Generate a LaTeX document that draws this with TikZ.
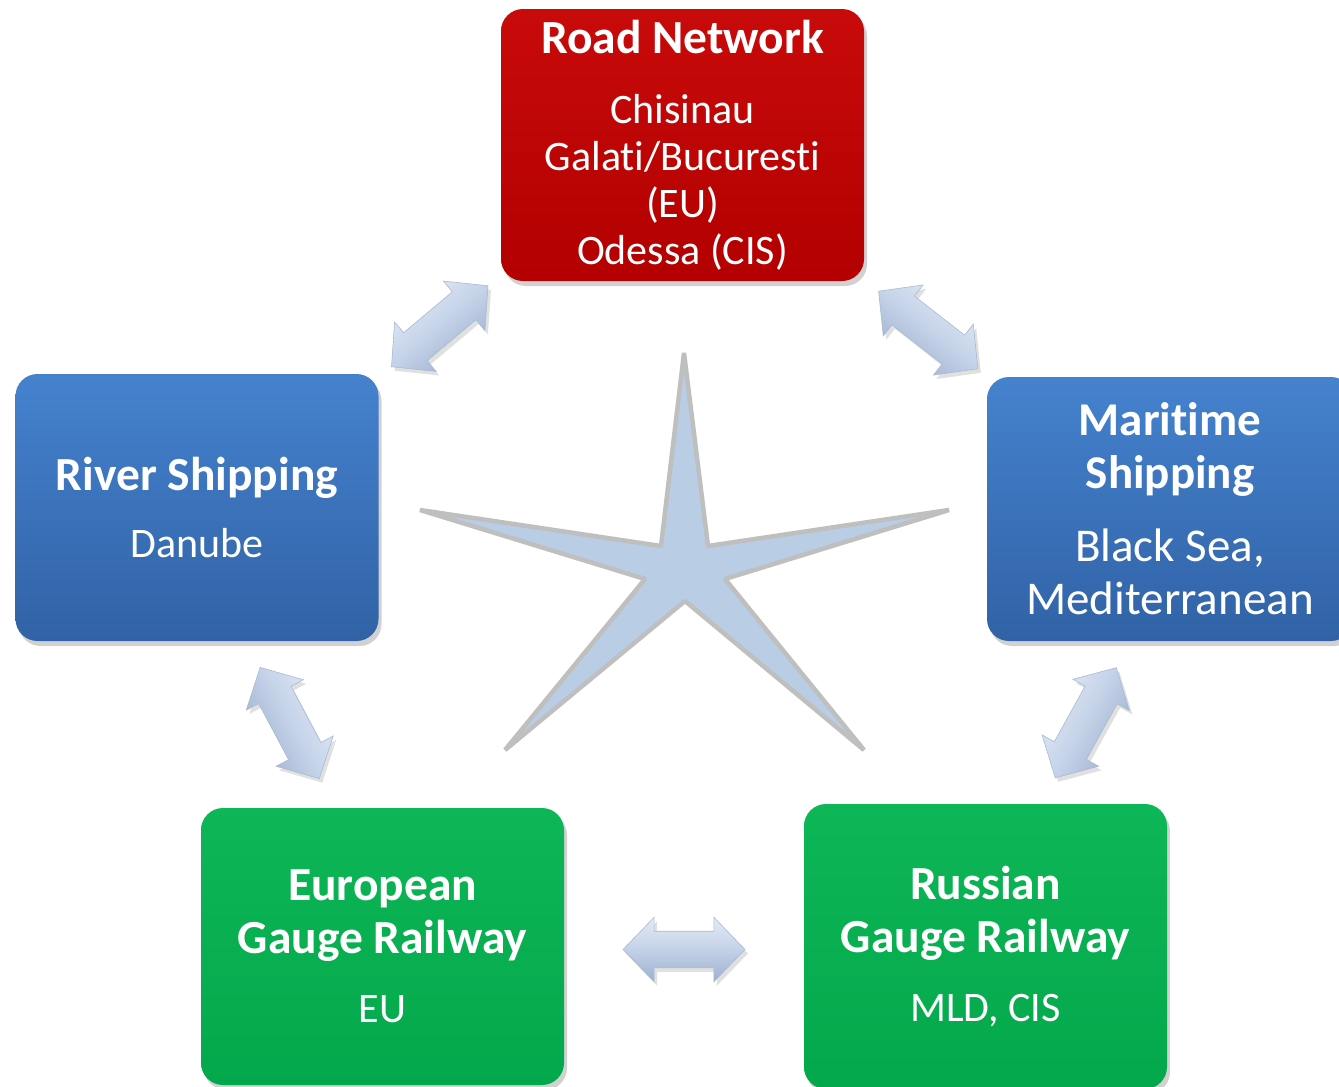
\documentclass[tikz,border=0pt]{standalone}
\usepackage{fontspec}
\setmainfont{Carlito}[Ligatures=NoCommon, RawFeature={-liga;-clig;-dlig;-calt}]
\usetikzlibrary{shapes.arrows,shadows,calc}
\definecolor{redtop}{HTML}{C80A0A}
\definecolor{redbot}{HTML}{B30000}
\definecolor{bluetop}{HTML}{4582CE}
\definecolor{bluebot}{HTML}{3162A6}
\definecolor{greentop}{HTML}{0DB656}
\definecolor{greenbot}{HTML}{04A84C}
\definecolor{arrlight}{HTML}{E2EAF5}
\definecolor{arrmid}{HTML}{C4D2E8}
\definecolor{arrdark}{HTML}{9DB0CE}
\definecolor{arredge}{HTML}{A9B9D3}
\definecolor{starfill}{HTML}{B9CDE5}
\definecolor{starline}{HTML}{BFBFBF}
\newcommand\ttlfont{\fontsize{47.5}{53}\selectfont\bfseries}
\tikzset{
  box/.style={rectangle, rounded corners=22pt, minimum width=363pt,
    text=white, align=center, inner sep=0pt,
    drop shadow={shadow xshift=3pt, shadow yshift=-5pt, opacity=0.3, fill=black!60}},
  redbox/.style={box, top color=redtop, bottom color=redbot},
  bluebox/.style={box, top color=bluetop, bottom color=bluebot},
  greenbox/.style={box, top color=greentop, bottom color=greenbot},
  bodyfont/.style={font=\fontsize{42}{47}\selectfont},
  dblarrow/.style={double arrow, double arrow head extend=14pt,
    double arrow tip angle=92, minimum height=126pt, minimum width=64pt,
    inner xsep=0pt, inner ysep=18pt, draw=arredge, line width=0.6pt,
    top color=arrlight, bottom color=arrdark, middle color=arrmid,
    drop shadow={shadow xshift=3pt, shadow yshift=-4pt, opacity=0.2, fill=black!60}}
}
\begin{document}
\begin{tikzpicture}[x=1pt,y=-1pt]
\useasboundingbox (0,0) rectangle (1339,1087);

% star
\draw[fill=starfill, draw=starline, line width=4.5pt, miter limit=1]
  (684,353) -- (708,546) -- (949,510) -- (725,579) -- (864,750) -- (685,601)
  -- (505,750) -- (645,579) -- (420,510) -- (661,546) -- cycle;

% boxes
\node[redbox, bodyfont, minimum height=272pt] (road) at (682.5,145)
  {{\ttlfont Road Network}\\[23pt] Chisinau\\ Galati/Bucuresti\\ (EU)\\ Odessa (CIS)};
\node[bluebox, bodyfont, minimum height=267pt] (river) at (197,507.5)
  {{\ttlfont River Shipping}\\[20pt] Danube};
\node[bluebox, font=\fontsize{47}{53}\selectfont, minimum height=264pt, minimum width=366pt] (maritime) at (1170,509)
  {{\bfseries Maritime}\\ {\bfseries Shipping}\\[20pt] Black Sea,\\ Mediterranean};
\node[greenbox, bodyfont, minimum height=277pt] (european) at (382.5,946.5)
  {{\ttlfont European}\\[6pt] {\ttlfont Gauge Railway}\\[22pt] EU};
\node[greenbox, bodyfont, minimum height=285pt] (russian) at (985.5,946.5)
  {{\ttlfont Russian}\\[6pt] {\ttlfont Gauge Railway}\\[22pt] MLD, CIS};

% double arrows between boxes
\node[dblarrow, rotate=40, shading angle=40] (a1) at ($(road)!0.5!(river)$) {};
\node[dblarrow, rotate=-38, shading angle=-38] (a2) at ($(road)!0.5!(maritime)+(2,3)$) {};
\node[dblarrow, rotate=-62, shading angle=-62] (a3) at ($(river)!0.5!(european)+(0,-4)$) {};
\node[dblarrow, rotate=61, shading angle=61] (a4) at ($(maritime)!0.5!(russian)+(8,-5)$) {};
\node[dblarrow, minimum height=122pt] (a5) at ($(european)!0.5!(russian)+(0,3)$) {};
\end{tikzpicture}
\end{document}
